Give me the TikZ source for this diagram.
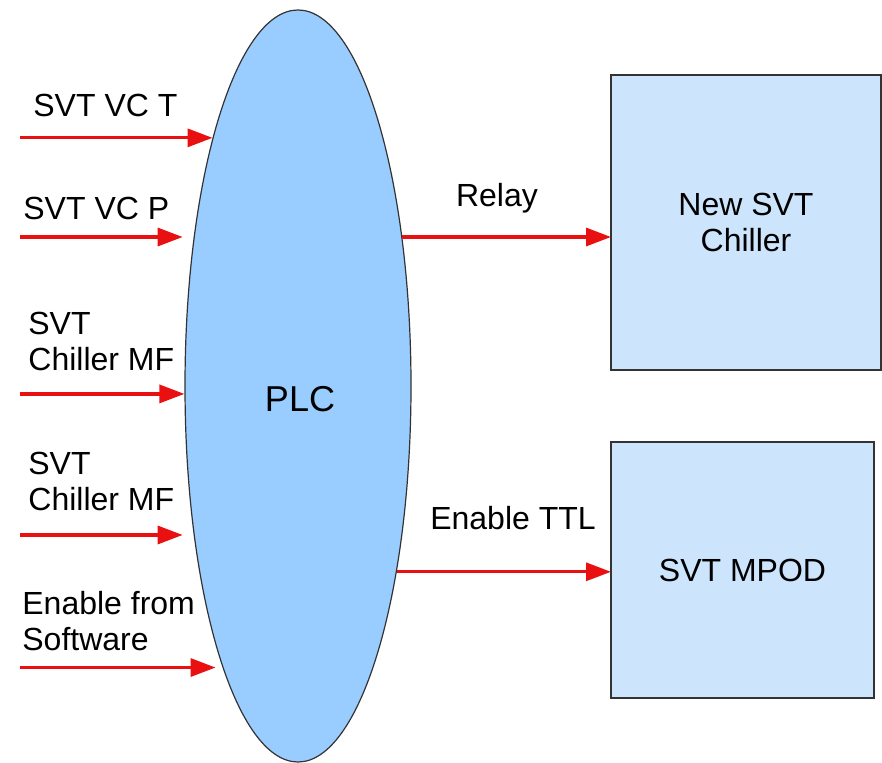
\documentclass[tikz,border=0pt]{standalone}
\usepackage{fontspec}
\setmainfont{Liberation Sans}
\usetikzlibrary{shapes.geometric,arrows.meta}

\definecolor{plcblue}{RGB}{153,204,255}
\definecolor{boxblue}{RGB}{204,228,252}
\definecolor{sigred}{RGB}{232,16,16}

\tikzset{
    sig/.style = {draw=sigred, line width=1.6pt, -{Triangle[length=12.5pt,width=9pt]}},
    txt/.style = {font=\fontsize{16}{18}\selectfont, inner sep=0pt, align=left},
    unit/.style = {draw=black!80, line width=0.6pt, fill=boxblue, font=\fontsize{16}{18}\selectfont, align=center, inner sep=0pt, outer sep=0pt}
}

\begin{document}
\begin{tikzpicture}[x=0.5pt,y=-0.5pt]
    \useasboundingbox (0,0) rectangle (882,763);

    \node [ellipse, draw=black!80, line width=0.6pt, fill=plcblue, minimum width=113pt, minimum height=376pt, inner sep=0pt] (plc) at (298,386) {};
    \node [txt, font=\fontsize{18}{20}\selectfont, anchor=base] (plclabel) at (300,412) {PLC};

    \node [unit, minimum width=135pt, minimum height=147.5pt] (chiller) at (746,222.5) {New SVT\\Chiller};
    \node [unit, minimum width=131.5pt, minimum height=128pt] (mpod) at (742.5,570) {SVT MPOD};

    \coordinate (inx) at (20,0);

    \node [txt, anchor=base west] (vctlabel) at (33,117) {SVT VC T};
    \node [txt, anchor=base west] (vcplabel) at (23,220) {SVT VC P};
    \node [txt, anchor=base west] (mfonelabel) at (28,371) {SVT\\Chiller MF};
    \node [txt, anchor=base west] (mftwolabel) at (28,511) {SVT\\Chiller MF};
    \node [txt, anchor=base west] (swlabel) at (22,650) {Enable from\\Software};
    \node [txt, anchor=base] (relaylabel) at (497,207) {Relay};
    \node [txt, anchor=base] (ttllabel) at (513,530) {Enable TTL};

    \draw [sig] (plc.109 -| inx) -- (plc.109);
    \draw [sig, shorten >=5.5pt] (plc.125 -| inx) -- (plc.125);
    \draw [sig] (plc.184 -| inx) -- (plc.184);
    \draw [sig, shorten >=5.5pt] (plc.235 -| inx) -- (plc.235);
    \draw [sig, shorten >=3.5pt] (plc.255 -| inx) -- (plc.255);

    \draw [sig] (plc.55) -- (plc.55 -| chiller.west);
    \draw [sig] (plc.298) -- (plc.298 -| mpod.west);
\end{tikzpicture}
\end{document}
